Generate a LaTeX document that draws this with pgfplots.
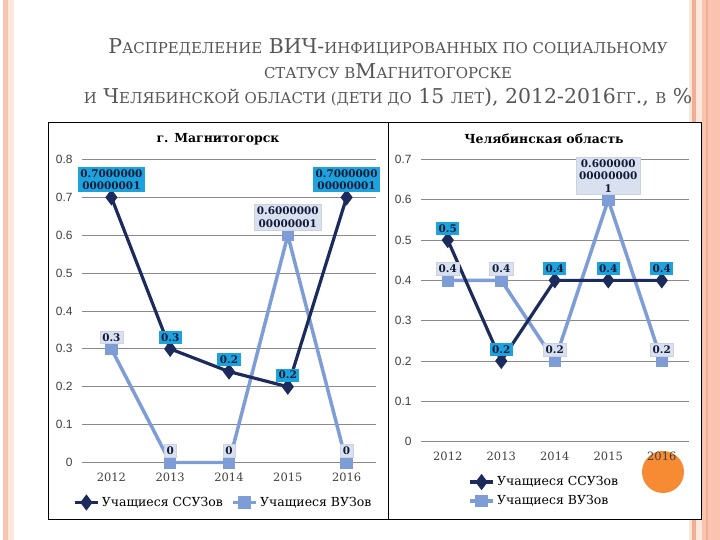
\documentclass[border=0pt]{standalone}
\usepackage{pgfplots}
\pgfplotsset{compat=1.18}
\usepackage{fontspec}
\setmainfont{DejaVu Serif}
\newfontfamily\ticksans{Liberation Sans}

\definecolor{ssuz}{HTML}{1C2B5B}
\definecolor{ssuzbox}{HTML}{1CA3DE}
\definecolor{vuz}{HTML}{7E9CD6}
\definecolor{vuzbox}{HTML}{D9E1F0}
\definecolor{gridgray}{HTML}{8A8A8A}
\definecolor{ticktext}{HTML}{404040}
\definecolor{titlegray}{HTML}{555555}
\definecolor{salmon}{HTML}{F9C4AF}
\definecolor{salmonline}{HTML}{F3AD92}
\definecolor{palepink}{HTML}{FDE6DC}
\definecolor{dot}{HTML}{F68B33}

\newcommand\sm[1]{{\fontsize{15}{18}\selectfont #1}}

\pgfplotsset{
  slidechart/.style={
    scale only axis,
    clip=false,
    xmin=-0.5, xmax=4.5,
    xtick={0,1,2,3,4},
    xticklabels={2012,2013,2014,2015,2016},
    ymin=0,
    ymajorgrids,
    major grid style={gridgray, line width=0.8pt},
    axis line style={draw=none},
    major tick length=0pt,
    /pgf/number format/assume math mode=true,
    xticklabel style={font=\fontsize{11.5}{13}\selectfont, text=ticktext, yshift=-7bp},
    yticklabel style={font=\ticksans\fontsize{12}{14}\selectfont, text=ticktext, xshift=-6bp},
    legend style={draw=none, fill=none, font=\fontsize{12.5}{15}\selectfont,
      /tikz/every even column/.append style={column sep=6bp}},
    legend cell align=left,
    legend image code/.code={%
      \draw[mark repeat=2, mark phase=2] plot coordinates {(0cm,0cm) (0.42cm,0cm) (0.84cm,0cm)};},
  },
  ssuzline/.style={color=ssuz, line width=3.2pt, mark=diamond*, mark size=5.5bp,
    mark options={solid, fill=ssuz}},
  vuzline/.style={color=vuz, line width=3.5pt, mark=square*, mark size=4.5bp,
    mark options={solid, fill=vuz}},
  ssuzlabels/.style={draw=none, mark=none, forget plot,
    nodes near coords, point meta=explicit symbolic,
    every node near coord/.append style={fill=ssuzbox, text=ssuz!60!black,
      font=\bfseries\fontsize{10.5}{12.5}\selectfont, inner sep=2.5bp,
      align=center, anchor=south, yshift=5bp}},
  vuzlabels/.style={draw=none, mark=none, forget plot,
    nodes near coords, point meta=explicit symbolic,
    every node near coord/.append style={fill=vuzbox, draw=vuzbox!85!gray, text=ssuz!60!black,
      font=\bfseries\fontsize{10.5}{12.5}\selectfont, inner sep=2.5bp,
      align=center, anchor=south, yshift=5bp}},
}

\begin{document}
\begin{tikzpicture}[x=1bp, y=1bp]
\useasboundingbox (0,0) rectangle (720,540);
\fill[white] (0,0) rectangle (720,540);
% slide decoration
\fill[salmon] (3,0) rectangle (8,540);
\fill[palepink] (8,0) rectangle (14,540);
\fill[palepink] (689,0) rectangle (720,540);
\fill[salmonline] (692,0) rectangle (696,540);
\fill[salmon] (702,0) rectangle (720,540);
\fill[salmonline] (706,0) rectangle (708,540);

% title
\node[text=titlegray, align=center, font=\fontsize{20.5}{25}\selectfont] at (388,467)
  {Р\sm{АСПРЕДЕЛЕНИЕ} ВИЧ-\sm{ИНФИЦИРОВАННЫХ ПО СОЦИАЛЬНОМУ}\\
   \sm{СТАТУСУ В}М\sm{АГНИТОГОРСКЕ}\\
   \sm{И} Ч\sm{ЕЛЯБИНСКОЙ ОБЛАСТИ (ДЕТИ ДО} 15 \sm{ЛЕТ}), 2012-2016\sm{ГГ}., \sm{В} \%};

% frame
\fill[white] (48,21) rectangle (701,418);
\draw[black, line width=0.9pt] (48,21) rectangle (701,418);
\draw[black, line width=0.9pt] (388,21) -- (388,418);

\fill[dot] (663,68) circle (21);

\node[font=\bfseries\fontsize{12.5}{14}\selectfont] at (218,401) {г. Магнитогорск};
\node[font=\bfseries\fontsize{12.5}{14}\selectfont] at (544,401) {Челябинская область};

% Magnitogorsk
\begin{axis}[slidechart,
  at={(82bp,77.5bp)}, anchor=south west,
  width=294bp, height=303bp,
  ymax=0.8,
  ytick={0,0.1,0.2,0.3,0.4,0.5,0.6,0.7,0.8},
  yticklabels={0,0.1,0.2,0.3,0.4,0.5,0.6,0.7,0.8},
  legend columns=2,
  legend style={at={(0.48,-0.132)}, anchor=center},
]
\addplot[vuzline, forget plot] coordinates {(0,0.3) (1,0) (2,0) (3,0.6) (4,0)};
\addplot[ssuzline] coordinates {(0,0.7) (1,0.3) (2,0.24) (3,0.2) (4,0.7)};
\addlegendentry{Учащиеся ССУЗов}
\addlegendimage{vuzline}
\addlegendentry{Учащиеся ВУЗов}
\addplot[vuzlabels] coordinates {(0,0.3) [0.3] (1,0) [0] (2,0) [0]
  (3,0.6) [{0.6000000\\00000001}] (4,0) [0]};
\addplot[ssuzlabels] coordinates {(0,0.7) [{0.7000000\\00000001}] (1,0.3) [0.3]
  (2,0.24) [0.2] (3,0.2) [0.2] (4,0.7) [{0.7000000\\00000001}]};
\end{axis}

% Chelyabinsk region
\begin{axis}[slidechart,
  at={(421bp,98.5bp)}, anchor=south west,
  width=267.5bp, height=282bp,
  ymax=0.7,
  ytick={0,0.1,0.2,0.3,0.4,0.5,0.6,0.7},
  yticklabels={0,0.1,0.2,0.3,0.4,0.5,0.6,0.7},
  legend columns=1,
  legend style={at={(0.46,-0.177)}, anchor=center, row sep=4bp},
]
\addplot[vuzline, forget plot] coordinates {(0,0.4) (1,0.4) (2,0.2) (3,0.6) (4,0.2)};
\addplot[ssuzline] coordinates {(0,0.5) (1,0.2) (2,0.4) (3,0.4) (4,0.4)};
\addlegendentry{Учащиеся ССУЗов}
\addlegendimage{vuzline}
\addlegendentry{Учащиеся ВУЗов}
\addplot[vuzlabels] coordinates {(0,0.4) [0.4] (1,0.4) [0.4] (2,0.2) [0.2]
  (3,0.6) [{0.600000\\00000000\\1}] (4,0.2) [0.2]};
\addplot[ssuzlabels] coordinates {(0,0.5) [0.5] (1,0.2) [0.2] (2,0.4) [0.4]
  (3,0.4) [0.4] (4,0.4) [0.4]};
\end{axis}
\end{tikzpicture}
\end{document}
